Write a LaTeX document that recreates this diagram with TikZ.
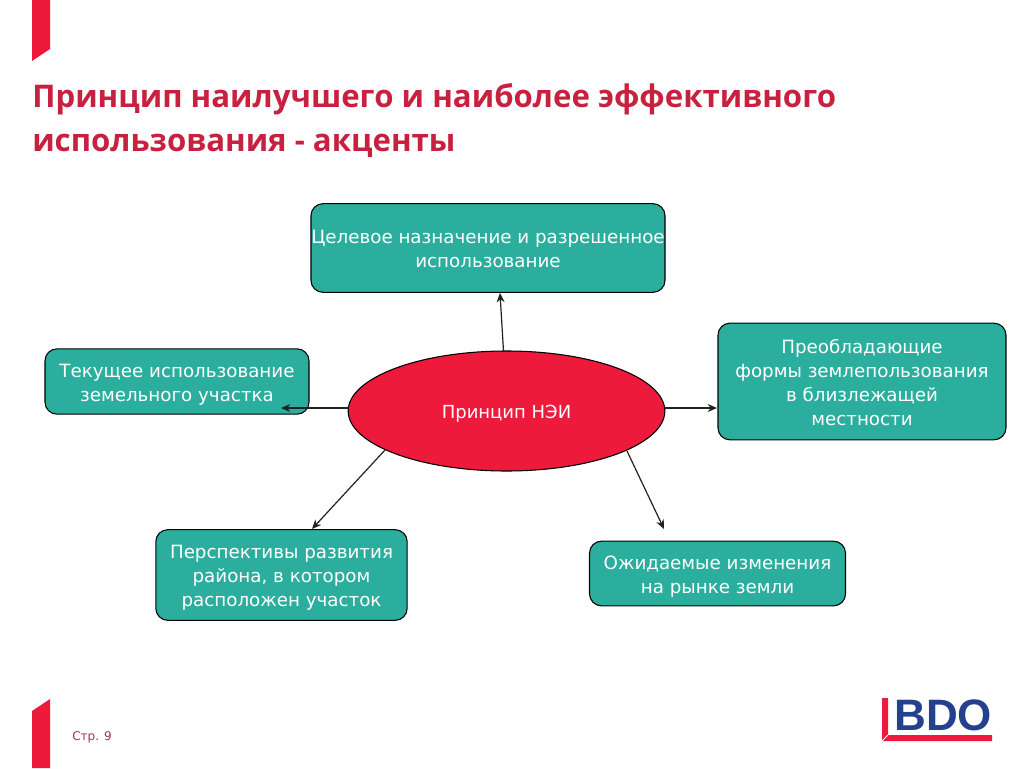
\documentclass[tikz,border=0pt]{standalone}
\usepackage{fontspec}
\setmainfont{DejaVu Sans}
\newfontfamily\titlefont{Open Sans}
\newfontfamily\logofont{Liberation Sans}
\usetikzlibrary{arrows.meta,shapes.geometric}
\definecolor{teal1}{HTML}{2BAE9E}
\definecolor{bdored}{HTML}{ED1A3B}
\definecolor{bdoblue}{HTML}{24418E}
\definecolor{titlecol}{HTML}{C8203F}
\definecolor{pagecol}{HTML}{A8324F}
\definecolor{linecol}{HTML}{222222}
\newsavebox{\lblbox}
\newcommand{\lbl}[2]{\sbox{\lblbox}{\begin{tabular}{@{}c@{}}#2\end{tabular}}\raisebox{-#1}[\ht\lblbox][\dp\lblbox]{\usebox{\lblbox}}}
\tikzset{
 px/.style={x=0.75pt,y=-0.75pt},
 tbox/.style={draw=black,line width=0.8pt,fill=teal1,rounded corners=9pt,inner sep=0pt,text=white,font=\fontsize{13.7}{18}\selectfont},
 link/.style={draw=linecol,line width=0.9pt,-{Stealth[length=7pt,width=6pt]}},
 titletext/.style={anchor=base west,inner sep=0pt,text=titlecol,font=\titlefont\bfseries\fontsize{23.4}{26}\selectfont},
 stripe/.style={fill=bdored,draw=none}
}
\begin{document}
\begin{tikzpicture}[px]
\useasboundingbox (0,0) rectangle (1024,768);
\fill[white] (0,0) rectangle (1024,768);
% corner stripes
\fill[stripe] (32,0) -- (50,0) -- (50,49) -- (32,61) -- cycle;
\fill[stripe] (32,711) -- (50,699) -- (50,768) -- (32,768) -- cycle;
% title
\node[titletext] (t1) at (32,107) {Принцип наилучшего и наиболее эффективного};
\node[titletext] (t2) at (32,151) {использования - акценты};
% boxes
\node[tbox,minimum width=265.5pt,minimum height=66.5pt] (top) at (488,248) {\lbl{2.2pt}{Целевое назначение и разрешенное\\использование}};
\node[tbox,minimum width=198pt,minimum height=49pt] (left) at (177,381.5) {\lbl{2.6pt}{Текущее использование\\земельного участка}};
\node[tbox,minimum width=216pt,minimum height=87.5pt] (right) at (862,381.5) {\lbl{2.1pt}{Преобладающие\\формы землепользования\\в близлежащей\\местности}};
\node[tbox,minimum width=188.5pt,minimum height=68pt] (dl) at (281.5,575) {\lbl{2.2pt}{Перспективы развития\\района, в котором\\расположен участок}};
\node[tbox,minimum width=192pt,minimum height=48.5pt] (dr) at (717.5,573.5) {\lbl{2.2pt}{Ожидаемые изменения\\на рынке земли}};
% centre
\node[ellipse,draw=black,line width=0.8pt,fill=bdored,minimum width=237.5pt,minimum height=90pt,inner sep=0pt,text=white,font=\fontsize{13.5}{18}\selectfont] (c) at (506.5,411) {\lbl{2.2pt}{Принцип НЭИ}};
% connector ends
\coordinate (e1) at (503.5,351);
\coordinate (e2) at (500,293);
\coordinate (e3) at (349,408);
\coordinate (e4) at (281,408);
\coordinate (e5) at (665,408);
\coordinate (e6) at (717,408);
\coordinate (e7) at (385,450);
\coordinate (e8) at (312,529);
\coordinate (e9) at (627,451);
\coordinate (e10) at (664,529);
\draw[link] (e1) -- (e2);
\draw[link] (e3) -- (e4);
\draw[link] (e5) -- (e6);
\draw[link] (e7) -- (e8);
\draw[link] (e9) -- (e10);
% page
\node[anchor=base west,inner sep=0pt,text=pagecol,font=\fontsize{9}{11}\selectfont] (pg) at (72,740) {Стр. 9};
% logo
\fill[bdored] (882,698) -- (888,698) -- (888,735) -- (992,735) -- (992,741) -- (882,741) -- cycle;
\draw[white,line width=0.7pt] (882,741) -- (888,735);
\node[anchor=base west,inner sep=0pt,text=bdoblue,font=\logofont\bfseries\fontsize{33}{36}\selectfont] (logo) at (894,730.5) {BDO};
\end{tikzpicture}
\end{document}
